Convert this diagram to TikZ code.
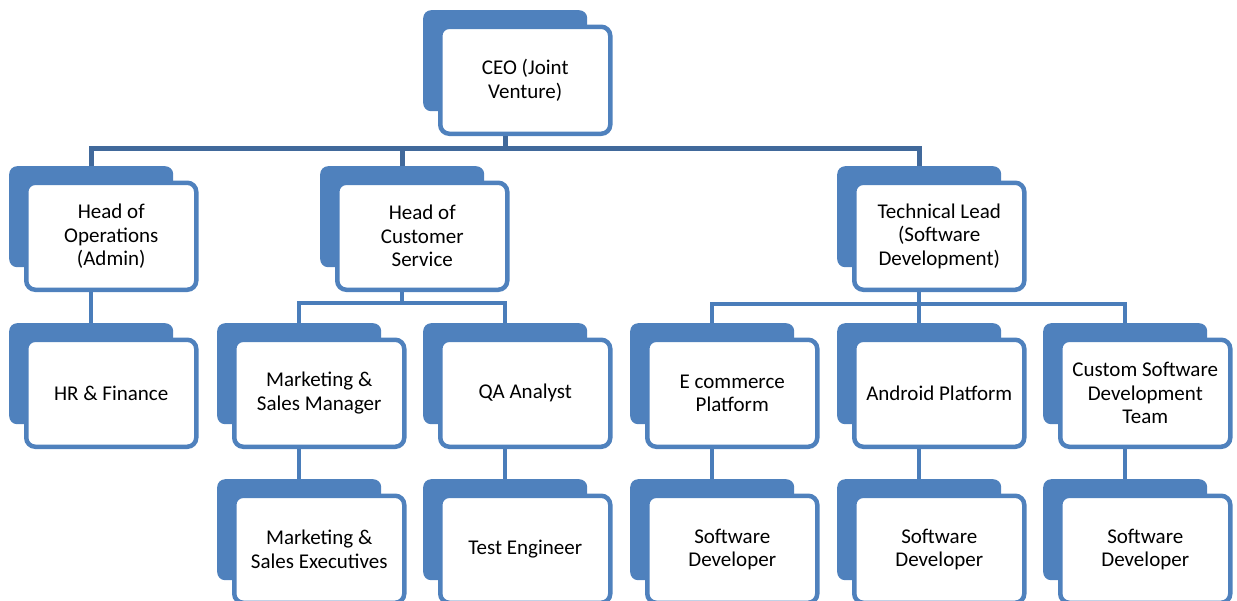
\documentclass[tikz,border=0pt]{standalone}
\usepackage{fontspec}
\setmainfont{Carlito}
\definecolor{boxblue}{HTML}{4F81BD}
\definecolor{linkblue}{HTML}{4A7DBA}
\definecolor{topblue}{HTML}{41699B}
\tikzset{
  backbox/.style={fill=boxblue, draw=none, rounded corners=8pt, minimum width=164pt, minimum height=101pt, anchor=north west, inner sep=0pt},
  frontbox/.style={fill=white, draw=boxblue, line width=4.5pt, rounded corners=9pt, minimum width=170pt, minimum height=107pt, anchor=north west, inner sep=2pt, align=center, font=\fontsize{21pt}{23.5pt}\selectfont},
  conn/.style={draw=linkblue, line width=4.5pt, line join=miter},
  topconn/.style={draw=topblue, line width=5pt, line join=miter}
}
\newcommand{\orgbox}[4]{%
  \node[backbox] (#1-b) at (#2,#3) {};
  \node[frontbox] (#1) at (#2+15,#3+14.5) {#4};
}
\begin{document}
\begin{tikzpicture}[x=1pt,y=-1pt]
\useasboundingbox (0,0) rectangle (1237,600);
\coordinate (bar1) at (0,148);
\coordinate (bar2) at (0,303);
\coordinate (bar3) at (0,304);
% boxes
\orgbox{ceo}{423}{10}{CEO (Joint\\Venture)}
\orgbox{hops}{9}{166}{Head of\\Operations\\(Admin)}
\orgbox{hcs}{320}{166}{Head of\\Customer\\Service}
\orgbox{tech}{837}{166}{Technical Lead\\(Software\\Development)}
\orgbox{hr}{9}{323}{HR \& Finance}
\orgbox{msm}{217}{323}{Marketing \&\\Sales Manager}
\orgbox{qa}{423}{323}{QA Analyst}
\orgbox{ecom}{630}{323}{E commerce\\Platform}
\orgbox{andr}{837}{323}{Android Platform}
\orgbox{cust}{1043}{323}{Custom Software\\Development\\Team}
\orgbox{mse}{217}{479}{Marketing \&\\Sales Executives}
\orgbox{test}{423}{479}{Test Engineer}
\orgbox{dev1}{630}{479}{Software\\Developer}
\orgbox{dev2}{837}{479}{Software\\Developer}
\orgbox{dev3}{1043}{479}{Software\\Developer}
% level 1
\draw[topconn] (ceo-b.north |- ceo.south) -- (ceo-b.north |- bar1);
\draw[topconn] (hops-b.north) |- (tech-b.north |- bar1) -- (tech-b.north);
\draw[topconn] (hcs-b.north) -- (hcs-b.north |- bar1);
% level 2
\draw[conn] (hops-b.north |- hops.south) -- (hr-b.north);
\draw[conn] (hcs-b.north |- hcs.south) -- (hcs-b.north |- bar2);
\draw[conn] (msm-b.north) |- (qa-b.north |- bar2) -- (qa-b.north);
\draw[conn] (tech-b.north |- tech.south) -- (tech-b.north |- bar3);
\draw[conn] (ecom-b.north) |- (cust-b.north |- bar3) -- (cust-b.north);
\draw[conn] (andr-b.north |- bar3) -- (andr-b.north);
% level 3
\draw[conn] (msm-b.north |- msm.south) -- (mse-b.north);
\draw[conn] (qa-b.north |- qa.south) -- (test-b.north);
\draw[conn] (ecom-b.north |- ecom.south) -- (dev1-b.north);
\draw[conn] (andr-b.north |- andr.south) -- (dev2-b.north);
\draw[conn] (cust-b.north |- cust.south) -- (dev3-b.north);
\end{tikzpicture}
\end{document}
